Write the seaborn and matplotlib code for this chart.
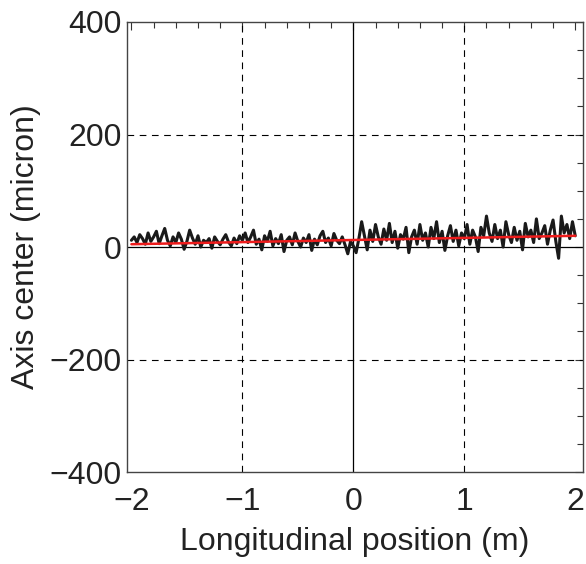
import matplotlib
matplotlib.use("Agg")
import matplotlib.pyplot as plt
import seaborn as sns
import numpy as np
import pandas as pd
from matplotlib.ticker import MultipleLocator

# Data
pos_left = [-2.0 + 0.025 * i for i in range(80)]
pos_right = [0.0 + 0.025 * i for i in range(81)]
center_left = [12, 18, 8, 22, 15, 5, 25, 10, 18, 28, 6, 20, 33, 12, 2, 18, 8, 25, 14, -4,
               10, 30, 16, 5, 20, 0, 12, 8, 15, -2, 18, 10, 4, 14, 22, 9, 2, 16, 6, 20,
               12, 25, 8, 18, 30, 5, 14, -5, 20, 10, 28, 2, 15, 6, 22, -8, 12, 18, 4, 25,
               10, 0, 16, 8, 22, -6, 14, 4, 20, 28, 8, 16, 2, 24, 12, 6, 18, 4, -12, 10]
center_right = [2, -10, 15, 45, 20, -5, 30, 10, 40, 18, 5, 32, 12, 42, 8, 28, -2, 22, 14, 35,
                -10, 18, 30, 5, 40, 12, 25, 0, 35, 15, 45, 8, 28, -6, 20, 38, 10, 30, 2, 25,
                15, 40, 5, 30, 18, -8, 35, 20, 55, 25, 10, 40, 15, 30, 0, 45, 22, 8, 35, 12,
                28, -5, 42, 18, 30, 8, 50, 15, 25, 38, 5, 30, 48, 10, -20, 55, 25, 40, 15, 45, 20]
fit_x = [-2.0, 2.0]
fit_y = [5.0, 20.0]

x_ticks = [-2, -1, 0, 1, 2]
x_ticklabels = ["\u22122", "\u22121", "0", "1", "2"]
y_ticks = [-400, -200, 0, 200, 400]
y_ticklabels = ["\u2212400", "\u2212200", "0", "200", "400"]

df = pd.DataFrame({"x": pos_left + pos_right, "y": center_left + center_right})
fit_df = pd.DataFrame({"x": fit_x, "y": fit_y})

sns.set_style("white")
plt.rcParams['font.family'] = ['Liberation Sans', 'DejaVu Sans']

fig = plt.figure(figsize=(5.86, 5.64), dpi=100)
ax = fig.add_axes([0.2167, 0.163, 0.7782, 0.798])

for v in (-1, 1):
    ax.axvline(v, color="black", lw=0.8, ls=(0, (6, 5)), zorder=1)
for v in (-200, 200):
    ax.axhline(v, color="black", lw=0.8, ls=(0, (6, 5)), zorder=1)
ax.axvline(0, color="black", lw=0.9, zorder=1)
ax.axhline(0, color="black", lw=0.9, zorder=1)

sns.lineplot(data=df, x="x", y="y", ax=ax, color="#1a1a1a", lw=2.2, zorder=3)
sns.lineplot(data=fit_df, x="x", y="y", ax=ax, color="#ee1c1c", lw=1.8, zorder=4)

ax.set_xlim(-2.04, 2.07)
ax.set_ylim(-400, 400)
ax.set_xticks(x_ticks)
ax.set_xticklabels(x_ticklabels)
ax.set_yticks(y_ticks)
ax.set_yticklabels(y_ticklabels)
ax.xaxis.set_minor_locator(MultipleLocator(0.2))
ax.yaxis.set_minor_locator(MultipleLocator(50))
ax.tick_params(which="both", direction="in", top=True, right=True, color="#333333")
ax.tick_params(which="major", length=6, width=0.8, labelsize=23, labelcolor="#222222")
ax.tick_params(which="minor", length=4, width=0.8)
ax.tick_params(axis="x", which="major", pad=11)
ax.tick_params(axis="y", which="major", pad=4)
for s in ax.spines.values():
    s.set_color("#444444")
    s.set_linewidth(1.0)

ax.set_xlabel("Longitudinal position (m)", fontsize=23, color="#222222", labelpad=7)
ax.set_ylabel("Axis center (micron)", fontsize=23, color="#222222", labelpad=6)

fig.savefig("out.png", dpi=100)
